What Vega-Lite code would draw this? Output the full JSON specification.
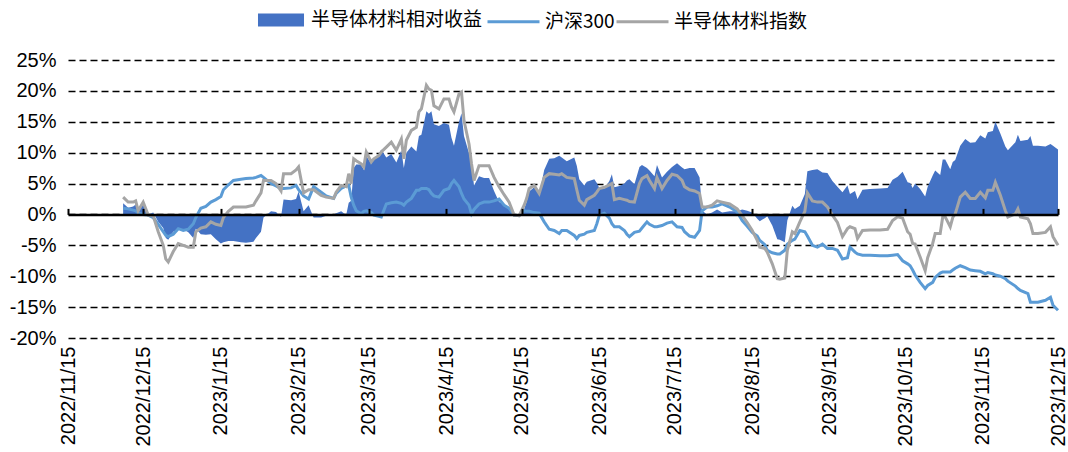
{
  "$schema": "https://vega.github.io/schema/vega-lite/v6.json",
  "width": 990,
  "height": 278,
  "autosize": {"type": "none"},
  "padding": {"left": 68, "top": 60, "right": 10, "bottom": 114},
  "background": "white",
  "config": {
    "view": {"stroke": null},
    "font": "Liberation Sans",
    "axis": {"labelFont": "Liberation Sans", "labelFontSize": 20, "labelColor": "black"},
    "axisY": {
      "values": [-20, -15, -10, -5, 0, 5, 10, 15, 20, 25],
      "labelExpr": "datum.value + '%'",
      "grid": true,
      "gridColor": "black",
      "gridDash": [7, 4],
      "gridWidth": 1.6,
      "domain": false,
      "ticks": false,
      "tickSize": 0,
      "labelPadding": 12,
      "labelOverlap": false,
      "title": null
    },
    "legend": {
      "orient": "none",
      "direction": "horizontal",
      "title": null,
      "labelFont": "Noto Sans CJK SC",
      "labelFontSize": 19,
      "labelColor": "black",
      "labelLimit": 400,
      "labelOffset": 4,
      "columnPadding": 3,
      "symbolSize": 2704,
      "padding": 0
    }
  },
  "data": {
    "values": [
      {"date": "2022/12/07", "hs": 1.0, "idx": 2.8, "rel": 1.8},
      {"date": "2022/12/09", "hs": 0.9, "idx": 2.0, "rel": 1.1},
      {"date": "2022/12/11", "hs": 0.7, "idx": 2.0, "rel": 1.3},
      {"date": "2022/12/12", "hs": 0.6, "idx": 2.2, "rel": 1.6},
      {"date": "2022/12/13", "hs": 0.2, "idx": 0.6, "rel": 0.4},
      {"date": "2022/12/15", "hs": 0.0, "idx": 2.0, "rel": 2.0},
      {"date": "2022/12/17", "hs": -0.1, "idx": -0.1, "rel": 0.0},
      {"date": "2022/12/19", "hs": -0.5, "idx": -0.2, "rel": 0.3},
      {"date": "2022/12/21", "hs": -1.6, "idx": -2.8, "rel": -1.2},
      {"date": "2022/12/23", "hs": -2.8, "idx": -5.0, "rel": -2.2},
      {"date": "2022/12/24", "hs": -3.4, "idx": -7.2, "rel": -3.8},
      {"date": "2022/12/25", "hs": -3.6, "idx": -7.7, "rel": -4.1},
      {"date": "2022/12/27", "hs": -3.2, "idx": -6.0, "rel": -2.8},
      {"date": "2022/12/29", "hs": -2.3, "idx": -4.7, "rel": -2.4},
      {"date": "2022/12/31", "hs": -2.6, "idx": -5.0, "rel": -2.4},
      {"date": "2023/01/02", "hs": -2.4, "idx": -5.3, "rel": -2.9},
      {"date": "2023/01/04", "hs": -1.5, "idx": -5.3, "rel": -3.8},
      {"date": "2023/01/05", "hs": -0.5, "idx": -2.8, "rel": -2.3},
      {"date": "2023/01/07", "hs": 1.0, "idx": -2.2, "rel": -3.2},
      {"date": "2023/01/09", "hs": 1.3, "idx": -2.0, "rel": -3.3},
      {"date": "2023/01/11", "hs": 2.0, "idx": -1.2, "rel": -3.2},
      {"date": "2023/01/13", "hs": 2.4, "idx": -1.6, "rel": -4.0},
      {"date": "2023/01/15", "hs": 2.9, "idx": -1.8, "rel": -4.7},
      {"date": "2023/01/16", "hs": 4.0, "idx": -0.5, "rel": -4.5},
      {"date": "2023/01/18", "hs": 4.8, "idx": 0.5, "rel": -4.3},
      {"date": "2023/01/20", "hs": 5.5, "idx": 1.2, "rel": -4.3},
      {"date": "2023/01/23", "hs": 5.7, "idx": 1.2, "rel": -4.5},
      {"date": "2023/01/25", "hs": 5.8, "idx": 1.2, "rel": -4.6},
      {"date": "2023/01/28", "hs": 5.9, "idx": 1.5, "rel": -4.4},
      {"date": "2023/01/29", "hs": 6.0, "idx": 2.2, "rel": -3.8},
      {"date": "2023/01/31", "hs": 6.3, "idx": 3.5, "rel": -2.8},
      {"date": "2023/02/01", "hs": 6.0, "idx": 5.5, "rel": -0.5},
      {"date": "2023/02/04", "hs": 5.0, "idx": 5.5, "rel": 0.5},
      {"date": "2023/02/06", "hs": 4.6, "idx": 5.0, "rel": 0.4},
      {"date": "2023/02/08", "hs": 4.2, "idx": 3.8, "rel": -0.4},
      {"date": "2023/02/09", "hs": 4.2, "idx": 6.6, "rel": 2.4},
      {"date": "2023/02/12", "hs": 4.3, "idx": 6.6, "rel": 2.3},
      {"date": "2023/02/14", "hs": 4.7, "idx": 7.2, "rel": 2.5},
      {"date": "2023/02/15", "hs": 4.0, "idx": 7.7, "rel": 3.7},
      {"date": "2023/02/17", "hs": 3.0, "idx": 3.5, "rel": 0.5},
      {"date": "2023/02/19", "hs": 2.5, "idx": 4.0, "rel": 1.5},
      {"date": "2023/02/21", "hs": 4.5, "idx": 4.0, "rel": -0.5},
      {"date": "2023/02/24", "hs": 3.6, "idx": 3.1, "rel": -0.5},
      {"date": "2023/02/26", "hs": 3.0, "idx": 2.8, "rel": -0.2},
      {"date": "2023/03/01", "hs": 2.6, "idx": 2.6, "rel": 0.0},
      {"date": "2023/03/02", "hs": 3.4, "idx": 3.6, "rel": 0.2},
      {"date": "2023/03/04", "hs": 4.2, "idx": 4.7, "rel": 0.5},
      {"date": "2023/03/06", "hs": 4.6, "idx": 4.5, "rel": -0.1},
      {"date": "2023/03/07", "hs": 4.7, "idx": 6.6, "rel": 1.9},
      {"date": "2023/03/08", "hs": 2.8, "idx": 5.0, "rel": 2.2},
      {"date": "2023/03/09", "hs": 1.5, "idx": 9.0, "rel": 7.5},
      {"date": "2023/03/10", "hs": 0.6, "idx": 8.7, "rel": 8.1},
      {"date": "2023/03/12", "hs": 0.1, "idx": 8.2, "rel": 8.1},
      {"date": "2023/03/13", "hs": 0.5, "idx": 7.7, "rel": 7.2},
      {"date": "2023/03/14", "hs": 0.6, "idx": 10.1, "rel": 9.5},
      {"date": "2023/03/16", "hs": 0.3, "idx": 8.5, "rel": 8.2},
      {"date": "2023/03/17", "hs": -0.1, "idx": 9.0, "rel": 9.1},
      {"date": "2023/03/19", "hs": -0.3, "idx": 9.5, "rel": 9.8},
      {"date": "2023/03/20", "hs": -0.4, "idx": 10.1, "rel": 10.5},
      {"date": "2023/03/22", "hs": 1.7, "idx": 10.9, "rel": 9.2},
      {"date": "2023/03/24", "hs": 1.9, "idx": 11.7, "rel": 9.8},
      {"date": "2023/03/26", "hs": 2.0, "idx": 10.4, "rel": 8.4},
      {"date": "2023/03/28", "hs": 1.8, "idx": 12.2, "rel": 10.4},
      {"date": "2023/03/29", "hs": 1.5, "idx": 9.0, "rel": 7.5},
      {"date": "2023/03/30", "hs": 2.0, "idx": 12.0, "rel": 10.0},
      {"date": "2023/04/01", "hs": 2.6, "idx": 13.6, "rel": 11.0},
      {"date": "2023/04/03", "hs": 3.9, "idx": 14.1, "rel": 10.2},
      {"date": "2023/04/04", "hs": 3.9, "idx": 16.6, "rel": 12.7},
      {"date": "2023/04/05", "hs": 4.2, "idx": 17.1, "rel": 12.9},
      {"date": "2023/04/07", "hs": 4.2, "idx": 20.9, "rel": 16.7},
      {"date": "2023/04/08", "hs": 4.0, "idx": 20.3, "rel": 16.3},
      {"date": "2023/04/09", "hs": 3.4, "idx": 20.1, "rel": 16.7},
      {"date": "2023/04/10", "hs": 3.0, "idx": 17.6, "rel": 14.6},
      {"date": "2023/04/12", "hs": 2.8, "idx": 17.1, "rel": 14.3},
      {"date": "2023/04/14", "hs": 3.9, "idx": 18.7, "rel": 14.8},
      {"date": "2023/04/16", "hs": 4.2, "idx": 18.7, "rel": 14.5},
      {"date": "2023/04/17", "hs": 5.0, "idx": 17.4, "rel": 12.4},
      {"date": "2023/04/18", "hs": 5.5, "idx": 16.6, "rel": 11.1},
      {"date": "2023/04/20", "hs": 4.5, "idx": 19.5, "rel": 15.0},
      {"date": "2023/04/21", "hs": 3.4, "idx": 19.8, "rel": 16.4},
      {"date": "2023/04/22", "hs": 2.5, "idx": 15.2, "rel": 12.7},
      {"date": "2023/04/24", "hs": 1.5, "idx": 11.4, "rel": 9.9},
      {"date": "2023/04/25", "hs": 0.1, "idx": 8.2, "rel": 8.1},
      {"date": "2023/04/26", "hs": 0.8, "idx": 5.5, "rel": 4.7},
      {"date": "2023/04/28", "hs": 1.7, "idx": 7.9, "rel": 6.2},
      {"date": "2023/04/30", "hs": 2.0, "idx": 7.9, "rel": 5.9},
      {"date": "2023/05/02", "hs": 2.0, "idx": 7.9, "rel": 5.9},
      {"date": "2023/05/04", "hs": 2.2, "idx": 6.0, "rel": 3.8},
      {"date": "2023/05/06", "hs": 2.5, "idx": 4.5, "rel": 2.0},
      {"date": "2023/05/08", "hs": 1.5, "idx": 3.2, "rel": 1.7},
      {"date": "2023/05/10", "hs": 1.0, "idx": 2.0, "rel": 1.0},
      {"date": "2023/05/12", "hs": -0.1, "idx": -0.1, "rel": 0.0},
      {"date": "2023/05/14", "hs": -0.2, "idx": -0.2, "rel": 0.0},
      {"date": "2023/05/16", "hs": 0.6, "idx": 1.5, "rel": 0.9},
      {"date": "2023/05/17", "hs": 0.5, "idx": 2.6, "rel": 2.1},
      {"date": "2023/05/18", "hs": 0.5, "idx": 4.2, "rel": 3.7},
      {"date": "2023/05/20", "hs": 0.3, "idx": 4.7, "rel": 4.4},
      {"date": "2023/05/22", "hs": 0.2, "idx": 3.4, "rel": 3.2},
      {"date": "2023/05/24", "hs": -1.2, "idx": 6.0, "rel": 7.2},
      {"date": "2023/05/26", "hs": -2.4, "idx": 6.6, "rel": 9.0},
      {"date": "2023/05/28", "hs": -2.6, "idx": 6.5, "rel": 9.1},
      {"date": "2023/05/30", "hs": -3.1, "idx": 6.4, "rel": 9.5},
      {"date": "2023/05/31", "hs": -2.6, "idx": 6.6, "rel": 9.2},
      {"date": "2023/06/02", "hs": -2.6, "idx": 6.0, "rel": 8.6},
      {"date": "2023/06/05", "hs": -3.4, "idx": 5.8, "rel": 9.2},
      {"date": "2023/06/06", "hs": -3.9, "idx": 4.0, "rel": 7.9},
      {"date": "2023/06/07", "hs": -3.4, "idx": 2.3, "rel": 5.7},
      {"date": "2023/06/09", "hs": -3.2, "idx": 1.5, "rel": 4.7},
      {"date": "2023/06/10", "hs": -2.9, "idx": 2.4, "rel": 5.3},
      {"date": "2023/06/13", "hs": -2.6, "idx": 3.1, "rel": 5.7},
      {"date": "2023/06/14", "hs": -1.5, "idx": 3.6, "rel": 5.1},
      {"date": "2023/06/15", "hs": -0.1, "idx": 4.2, "rel": 4.3},
      {"date": "2023/06/17", "hs": 0.2, "idx": 4.4, "rel": 4.2},
      {"date": "2023/06/19", "hs": -0.6, "idx": 4.8, "rel": 5.4},
      {"date": "2023/06/20", "hs": -1.5, "idx": 5.0, "rel": 6.5},
      {"date": "2023/06/21", "hs": -2.0, "idx": 2.4, "rel": 4.4},
      {"date": "2023/06/23", "hs": -2.0, "idx": 2.6, "rel": 4.6},
      {"date": "2023/06/25", "hs": -2.6, "idx": 2.4, "rel": 5.0},
      {"date": "2023/06/26", "hs": -3.2, "idx": 2.3, "rel": 5.5},
      {"date": "2023/06/27", "hs": -3.6, "idx": 2.1, "rel": 5.7},
      {"date": "2023/06/29", "hs": -2.9, "idx": 2.0, "rel": 4.9},
      {"date": "2023/07/01", "hs": -2.7, "idx": 5.0, "rel": 7.7},
      {"date": "2023/07/02", "hs": -2.2, "idx": 5.8, "rel": 8.0},
      {"date": "2023/07/04", "hs": -1.2, "idx": 6.3, "rel": 7.5},
      {"date": "2023/07/05", "hs": -1.6, "idx": 5.5, "rel": 7.1},
      {"date": "2023/07/07", "hs": -2.0, "idx": 4.2, "rel": 6.2},
      {"date": "2023/07/08", "hs": -2.0, "idx": 6.0, "rel": 8.0},
      {"date": "2023/07/10", "hs": -1.8, "idx": 4.2, "rel": 6.0},
      {"date": "2023/07/12", "hs": -1.4, "idx": 5.5, "rel": 6.9},
      {"date": "2023/07/14", "hs": -1.2, "idx": 6.5, "rel": 7.7},
      {"date": "2023/07/16", "hs": -2.0, "idx": 6.3, "rel": 8.3},
      {"date": "2023/07/18", "hs": -2.1, "idx": 5.5, "rel": 7.6},
      {"date": "2023/07/19", "hs": -2.8, "idx": 4.5, "rel": 7.3},
      {"date": "2023/07/21", "hs": -3.5, "idx": 4.0, "rel": 7.5},
      {"date": "2023/07/23", "hs": -3.7, "idx": 3.8, "rel": 7.5},
      {"date": "2023/07/25", "hs": -2.6, "idx": 3.4, "rel": 6.0},
      {"date": "2023/07/26", "hs": 0.6, "idx": 1.2, "rel": 0.6},
      {"date": "2023/07/28", "hs": 1.2, "idx": 1.2, "rel": 0.0},
      {"date": "2023/07/30", "hs": 1.2, "idx": 1.5, "rel": 0.3},
      {"date": "2023/08/01", "hs": 1.4, "idx": 2.2, "rel": 0.8},
      {"date": "2023/08/03", "hs": 1.7, "idx": 2.0, "rel": 0.3},
      {"date": "2023/08/06", "hs": 1.2, "idx": 1.7, "rel": 0.5},
      {"date": "2023/08/09", "hs": 0.4, "idx": 0.9, "rel": 0.5},
      {"date": "2023/08/11", "hs": -1.0, "idx": -0.2, "rel": 0.8},
      {"date": "2023/08/13", "hs": -1.9, "idx": -1.3, "rel": 0.6},
      {"date": "2023/08/15", "hs": -2.9, "idx": -2.6, "rel": 0.3},
      {"date": "2023/08/17", "hs": -3.5, "idx": -4.2, "rel": -0.7},
      {"date": "2023/08/18", "hs": -4.2, "idx": -5.3, "rel": -1.1},
      {"date": "2023/08/20", "hs": -4.9, "idx": -5.5, "rel": -0.6},
      {"date": "2023/08/21", "hs": -5.8, "idx": -6.1, "rel": -0.3},
      {"date": "2023/08/23", "hs": -6.2, "idx": -8.0, "rel": -1.8},
      {"date": "2023/08/25", "hs": -6.4, "idx": -10.4, "rel": -4.0},
      {"date": "2023/08/26", "hs": -6.4, "idx": -10.5, "rel": -4.1},
      {"date": "2023/08/28", "hs": -5.8, "idx": -10.3, "rel": -4.5},
      {"date": "2023/08/29", "hs": -4.8, "idx": -5.8, "rel": -1.0},
      {"date": "2023/08/31", "hs": -4.2, "idx": -2.8, "rel": 1.4},
      {"date": "2023/09/01", "hs": -4.0, "idx": -3.1, "rel": 0.9},
      {"date": "2023/09/03", "hs": -2.6, "idx": -1.2, "rel": 1.4},
      {"date": "2023/09/05", "hs": -2.8, "idx": 0.5, "rel": 3.3},
      {"date": "2023/09/06", "hs": -3.5, "idx": 3.5, "rel": 7.0},
      {"date": "2023/09/08", "hs": -5.0, "idx": 2.2, "rel": 7.2},
      {"date": "2023/09/10", "hs": -5.3, "idx": 2.0, "rel": 7.3},
      {"date": "2023/09/12", "hs": -4.8, "idx": 2.0, "rel": 6.8},
      {"date": "2023/09/14", "hs": -5.5, "idx": 1.2, "rel": 6.7},
      {"date": "2023/09/16", "hs": -5.5, "idx": -0.1, "rel": 5.4},
      {"date": "2023/09/18", "hs": -5.8, "idx": -1.3, "rel": 4.5},
      {"date": "2023/09/20", "hs": -7.2, "idx": -3.6, "rel": 3.6},
      {"date": "2023/09/22", "hs": -7.0, "idx": -2.3, "rel": 4.7},
      {"date": "2023/09/23", "hs": -5.3, "idx": -2.0, "rel": 3.3},
      {"date": "2023/09/25", "hs": -6.1, "idx": -2.3, "rel": 3.8},
      {"date": "2023/09/26", "hs": -6.4, "idx": -3.9, "rel": 2.5},
      {"date": "2023/09/28", "hs": -6.6, "idx": -2.6, "rel": 4.0},
      {"date": "2023/10/01", "hs": -6.6, "idx": -2.5, "rel": 4.1},
      {"date": "2023/10/05", "hs": -6.7, "idx": -2.5, "rel": 4.2},
      {"date": "2023/10/08", "hs": -6.7, "idx": -2.4, "rel": 4.3},
      {"date": "2023/10/10", "hs": -6.6, "idx": -1.0, "rel": 5.6},
      {"date": "2023/10/12", "hs": -6.5, "idx": -0.4, "rel": 6.1},
      {"date": "2023/10/14", "hs": -7.5, "idx": -0.6, "rel": 6.9},
      {"date": "2023/10/16", "hs": -8.0, "idx": -2.8, "rel": 5.2},
      {"date": "2023/10/17", "hs": -8.3, "idx": -3.2, "rel": 5.1},
      {"date": "2023/10/18", "hs": -9.0, "idx": -4.7, "rel": 4.3},
      {"date": "2023/10/19", "hs": -9.8, "idx": -4.8, "rel": 5.0},
      {"date": "2023/10/21", "hs": -11.0, "idx": -6.9, "rel": 4.1},
      {"date": "2023/10/23", "hs": -12.0, "idx": -9.1, "rel": 2.9},
      {"date": "2023/10/24", "hs": -11.5, "idx": -7.0, "rel": 4.5},
      {"date": "2023/10/26", "hs": -11.0, "idx": -4.7, "rel": 6.3},
      {"date": "2023/10/27", "hs": -10.2, "idx": -3.1, "rel": 7.1},
      {"date": "2023/10/29", "hs": -9.5, "idx": -3.1, "rel": 6.4},
      {"date": "2023/10/30", "hs": -9.3, "idx": -0.4, "rel": 8.9},
      {"date": "2023/10/31", "hs": -9.3, "idx": -0.4, "rel": 8.9},
      {"date": "2023/11/02", "hs": -9.3, "idx": -2.0, "rel": 7.3},
      {"date": "2023/11/03", "hs": -9.0, "idx": -0.5, "rel": 8.5},
      {"date": "2023/11/04", "hs": -8.7, "idx": 0.1, "rel": 8.8},
      {"date": "2023/11/06", "hs": -8.3, "idx": 2.8, "rel": 11.1},
      {"date": "2023/11/08", "hs": -8.6, "idx": 3.6, "rel": 12.2},
      {"date": "2023/11/10", "hs": -9.0, "idx": 2.6, "rel": 11.6},
      {"date": "2023/11/12", "hs": -9.1, "idx": 2.6, "rel": 11.7},
      {"date": "2023/11/14", "hs": -9.2, "idx": 3.6, "rel": 12.8},
      {"date": "2023/11/16", "hs": -9.6, "idx": 2.7, "rel": 12.3},
      {"date": "2023/11/17", "hs": -9.4, "idx": 3.9, "rel": 13.3},
      {"date": "2023/11/19", "hs": -9.6, "idx": 3.9, "rel": 13.5},
      {"date": "2023/11/20", "hs": -9.8, "idx": 5.2, "rel": 15.0},
      {"date": "2023/11/22", "hs": -10.0, "idx": 3.1, "rel": 13.1},
      {"date": "2023/11/24", "hs": -10.4, "idx": 0.6, "rel": 11.0},
      {"date": "2023/11/25", "hs": -10.8, "idx": -0.4, "rel": 10.4},
      {"date": "2023/11/28", "hs": -11.6, "idx": 0.1, "rel": 11.7},
      {"date": "2023/11/29", "hs": -12.0, "idx": 0.9, "rel": 12.9},
      {"date": "2023/11/30", "hs": -12.3, "idx": -0.4, "rel": 11.9},
      {"date": "2023/12/03", "hs": -12.8, "idx": -0.7, "rel": 12.1},
      {"date": "2023/12/04", "hs": -14.2, "idx": -1.5, "rel": 12.7},
      {"date": "2023/12/05", "hs": -14.2, "idx": -3.1, "rel": 11.1},
      {"date": "2023/12/07", "hs": -14.2, "idx": -3.1, "rel": 11.1},
      {"date": "2023/12/10", "hs": -13.9, "idx": -2.9, "rel": 11.0},
      {"date": "2023/12/12", "hs": -13.4, "idx": -2.0, "rel": 11.4},
      {"date": "2023/12/13", "hs": -14.7, "idx": -3.6, "rel": 11.1},
      {"date": "2023/12/15", "hs": -15.5, "idx": -5.0, "rel": 10.5}
    ]
  },
  "layer": [
    {
      "mark": {"type": "area", "opacity": 1, "interpolate": "linear"},
      "encoding": {
        "x": {
          "field": "date", "type": "temporal", "title": null,
          "scale": {"domain": [{"year": 2022, "month": 11, "date": 15}, {"year": 2023, "month": 12, "date": 15}]},
          "axis": {
            "orient": "bottom",
            "values": [
              {"year": 2022, "month": 11, "date": 15}, {"year": 2022, "month": 12, "date": 15},
              {"year": 2023, "month": 1, "date": 15}, {"year": 2023, "month": 2, "date": 15},
              {"year": 2023, "month": 3, "date": 15}, {"year": 2023, "month": 4, "date": 15},
              {"year": 2023, "month": 5, "date": 15}, {"year": 2023, "month": 6, "date": 15},
              {"year": 2023, "month": 7, "date": 15}, {"year": 2023, "month": 8, "date": 15},
              {"year": 2023, "month": 9, "date": 15}, {"year": 2023, "month": 10, "date": 15},
              {"year": 2023, "month": 11, "date": 15}, {"year": 2023, "month": 12, "date": 15}
            ],
            "format": "%Y/%-m/%-d",
            "labelAngle": -90,
            "labelPadding": 8,
            "labelOverlap": false,
            "labelBound": false,
            "labelFlush": false,
            "domain": false,
            "ticks": false,
            "tickSize": 0,
            "grid": false
          }
        },
        "y": {
          "field": "rel", "type": "quantitative", "title": null,
          "scale": {"domain": [-20, 25], "nice": false, "zero": false}
        },
        "y2": {"datum": 0},
        "fill": {
          "datum": "半导体材料相对收益",
          "type": "nominal",
          "scale": {"domain": ["半导体材料相对收益"], "range": ["#4472C4"]},
          "legend": {
            "legendX": 187,
            "legendY": -66,
            "symbolType": "M-0.885,-0.25H0.885V0.25H-0.885Z",
            "symbolOpacity": 1,
            "symbolStrokeWidth": 0
          }
        }
      }
    },
    {
      "mark": {"type": "line", "strokeWidth": 3, "interpolate": "linear"},
      "encoding": {
        "x": {
          "field": "date", "type": "temporal", "title": null,
          "axis": {
            "orient": "top",
            "offset": -154.4,
            "values": [
              {"year": 2022, "month": 11, "date": 15}, {"year": 2022, "month": 12, "date": 15},
              {"year": 2023, "month": 1, "date": 15}, {"year": 2023, "month": 2, "date": 15},
              {"year": 2023, "month": 3, "date": 15}, {"year": 2023, "month": 4, "date": 15},
              {"year": 2023, "month": 5, "date": 15}, {"year": 2023, "month": 6, "date": 15},
              {"year": 2023, "month": 7, "date": 15}, {"year": 2023, "month": 8, "date": 15},
              {"year": 2023, "month": 9, "date": 15}, {"year": 2023, "month": 10, "date": 15},
              {"year": 2023, "month": 11, "date": 15}, {"year": 2023, "month": 12, "date": 15}
            ],
            "labels": false,
            "domain": true,
            "domainColor": "black",
            "domainWidth": 2.5,
            "ticks": true,
            "tickColor": "black",
            "tickWidth": 2,
            "tickSize": 6,
            "grid": false,
            "zindex": 1
          }
        },
        "y": {"field": "hs", "type": "quantitative", "title": null},
        "stroke": {
          "datum": "沪深300",
          "type": "nominal",
          "scale": {"domain": ["沪深300", "半导体材料指数"], "range": ["#5B9BD5", "#A5A5A5"]},
          "legend": {
            "legendX": 418,
            "legendY": -66,
            "symbolType": "M-1,0H1",
            "symbolStrokeWidth": 3,
            "symbolOpacity": 1,
            "columnPadding": -16
          }
        }
      }
    },
    {
      "mark": {"type": "line", "strokeWidth": 3, "interpolate": "linear"},
      "encoding": {
        "x": {"field": "date", "type": "temporal", "title": null, "axis": null},
        "y": {"field": "idx", "type": "quantitative", "title": null},
        "stroke": {"datum": "半导体材料指数", "type": "nominal"}
      }
    }
  ],
  "resolve": {"axis": {"x": "independent"}}
}
